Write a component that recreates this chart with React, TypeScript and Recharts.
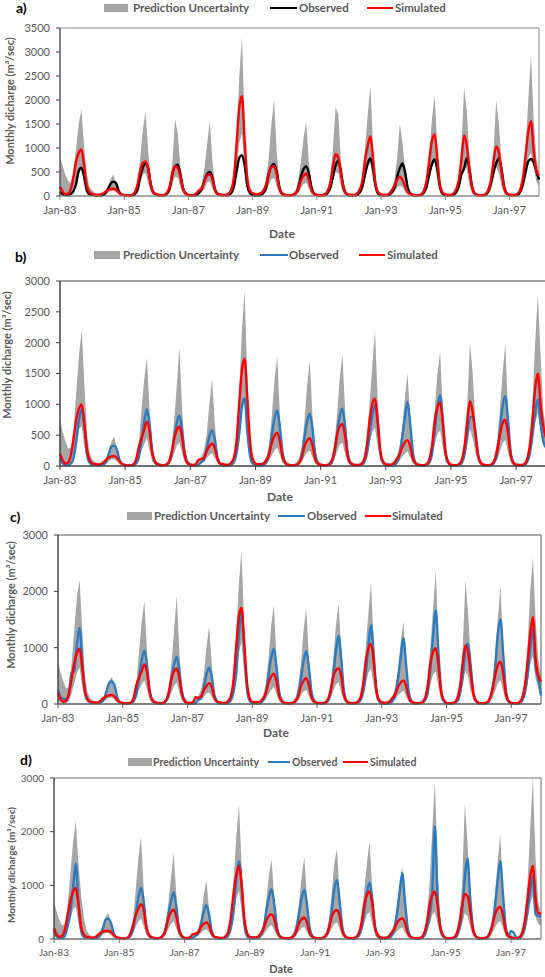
import { Area, ComposedChart, Line, ReferenceArea, XAxis, YAxis } from "recharts";

// month index 0 = Jan-83 ... 179 = Dec-97
const TICK_MONTHS = [0, 24, 48, 72, 96, 120, 144, 168];
const TICK_LABELS = ["Jan-83", "Jan-85", "Jan-87", "Jan-89", "Jan-91", "Jan-93", "Jan-95", "Jan-97"];
const Y_TICKS_A = [0, 500, 1000, 1500, 2000, 2500, 3000, 3500];
const Y_TICKS_B = [0, 500, 1000, 1500, 2000, 2500, 3000];
const Y_TICKS_CD = [0, 1000, 2000, 3000];
const SERIES_NAMES = ["Prediction Uncertainty", "Observed", "Simulated"];
const Y_TITLE = "Monthly dicharge (m\u00b3/sec)";
const X_TITLE = "Date";

// ---- panel a ----
const A_UPPER = [
  800, 620, 450, 320, 260, 500, 1000, 1500, 1800, 1050, 450, 200,
  120, 70, 50, 50, 60, 120, 220, 360, 450, 200, 80, 40,
  40, 30, 30, 40, 100, 300, 800, 1400, 1750, 900, 300, 100,
  60, 40, 30, 40, 100, 280, 700, 1600, 1300, 600, 220, 90,
  50, 40, 40, 60, 150, 250, 600, 1100, 1550, 700, 200, 80,
  40, 30, 30, 60, 150, 400, 1200, 2500, 3300, 1500, 400, 120,
  60, 40, 40, 60, 150, 350, 800, 1500, 2000, 900, 300, 100,
  50, 30, 30, 50, 120, 300, 700, 1200, 1550, 700, 250, 80,
  40, 30, 30, 60, 150, 400, 1000, 1850, 1700, 700, 250, 80,
  50, 40, 40, 60, 150, 400, 1000, 1700, 2300, 1000, 300, 100,
  60, 40, 40, 60, 150, 350, 800, 1500, 1100, 500, 200, 80,
  40, 30, 30, 50, 150, 400, 900, 1600, 2100, 1000, 300, 100,
  50, 40, 40, 60, 150, 400, 1000, 2250, 1800, 800, 250, 90,
  40, 30, 30, 50, 150, 350, 900, 2000, 1500, 700, 250, 80,
  50, 40, 40, 60, 150, 400, 1000, 2000, 2930, 1600, 800, 500,
];
const A_LOWER = [
  60, 30, 15, 15, 40, 150, 350, 550, 600, 300, 60, 20,
  10, 5, 5, 5, 15, 40, 80, 100, 110, 80, 30, 10,
  5, 5, 5, 10, 30, 120, 300, 450, 480, 250, 80, 25,
  10, 5, 5, 10, 30, 80, 250, 400, 380, 180, 50, 15,
  5, 5, 5, 20, 60, 80, 150, 280, 300, 150, 40, 10,
  10, 5, 5, 15, 50, 150, 500, 1100, 1300, 500, 120, 30,
  20, 10, 10, 20, 40, 100, 230, 350, 380, 200, 50, 15,
  5, 5, 5, 5, 20, 60, 150, 250, 280, 150, 40, 10,
  5, 5, 5, 10, 40, 120, 300, 500, 480, 200, 50, 15,
  10, 5, 5, 15, 50, 130, 350, 600, 700, 330, 70, 20,
  10, 5, 5, 15, 50, 100, 180, 220, 180, 80, 25, 10,
  5, 5, 5, 10, 50, 130, 350, 600, 700, 330, 70, 20,
  10, 5, 5, 15, 50, 130, 350, 700, 550, 230, 60, 15,
  5, 5, 5, 10, 50, 130, 350, 600, 480, 200, 50, 15,
  10, 5, 5, 15, 50, 150, 400, 800, 900, 600, 300, 200,
];
const A_OBS = [
  80, 40, 25, 20, 40, 100, 250, 520, 590, 400, 120, 40,
  25, 15, 10, 10, 25, 60, 150, 260, 300, 260, 100, 30,
  15, 10, 10, 15, 40, 130, 400, 600, 680, 560, 220, 70,
  30, 15, 10, 15, 50, 160, 450, 620, 650, 450, 150, 50,
  15, 10, 10, 20, 70, 150, 320, 460, 500, 380, 120, 40,
  20, 15, 15, 25, 60, 200, 520, 800, 850, 650, 220, 60,
  20, 15, 15, 25, 60, 170, 450, 620, 670, 500, 170, 50,
  20, 15, 10, 20, 50, 160, 400, 560, 620, 470, 170, 50,
  20, 15, 15, 25, 60, 170, 400, 640, 740, 500, 170, 50,
  20, 15, 15, 25, 70, 200, 450, 680, 780, 560, 190, 50,
  20, 15, 15, 25, 70, 170, 400, 580, 680, 480, 160, 50,
  20, 15, 15, 25, 70, 200, 450, 670, 760, 560, 190, 50,
  20, 15, 15, 25, 70, 200, 450, 570, 780, 560, 190, 50,
  20, 15, 15, 25, 90, 250, 500, 680, 790, 560, 190, 50,
  20, 15, 15, 25, 90, 250, 500, 720, 770, 700, 520, 340,
];
const A_SIM = [
  190, 90, 40, 50, 140, 380, 720, 900, 970, 650, 220, 80,
  40, 25, 20, 25, 50, 90, 130, 145, 150, 130, 70, 30,
  20, 10, 10, 25, 80, 250, 530, 690, 720, 560, 220, 70,
  40, 20, 15, 25, 70, 200, 480, 620, 580, 400, 150, 50,
  20, 15, 20, 60, 120, 150, 310, 430, 450, 330, 120, 40,
  30, 20, 20, 50, 130, 400, 1100, 1850, 2080, 1150, 370, 110,
  60, 40, 40, 60, 110, 230, 470, 600, 620, 450, 150, 50,
  20, 15, 10, 20, 50, 130, 320, 420, 470, 330, 120, 40,
  20, 15, 15, 35, 100, 260, 620, 870, 800, 460, 150, 50,
  30, 20, 20, 50, 130, 320, 750, 1050, 1240, 780, 220, 70,
  30, 20, 20, 50, 120, 220, 340, 400, 330, 200, 80, 40,
  20, 15, 15, 35, 110, 320, 750, 1150, 1280, 780, 220, 70,
  30, 20, 20, 50, 130, 320, 760, 1260, 1050, 580, 170, 50,
  20, 15, 15, 35, 120, 320, 730, 1030, 900, 520, 170, 50,
  30, 20, 20, 50, 130, 380, 850, 1350, 1560, 950, 520, 430,
];

// ---- panel b ----
const B_UPPER = [
  750, 550, 400, 280, 300, 600, 1200, 1800, 2200, 1300, 500, 200,
  100, 60, 50, 50, 70, 130, 250, 400, 480, 250, 80, 40,
  40, 30, 30, 40, 100, 350, 900, 1400, 1750, 900, 300, 100,
  60, 40, 30, 40, 100, 300, 700, 1300, 1920, 900, 300, 100,
  50, 40, 50, 100, 150, 250, 500, 1000, 1420, 700, 200, 70,
  40, 30, 30, 60, 150, 400, 1200, 2200, 2850, 1400, 400, 120,
  50, 40, 40, 60, 150, 350, 800, 1400, 1770, 800, 250, 90,
  50, 30, 30, 50, 120, 300, 700, 1300, 1700, 800, 250, 80,
  40, 30, 30, 50, 120, 350, 800, 1400, 1800, 900, 300, 90,
  50, 40, 40, 60, 150, 400, 1000, 1600, 2200, 1100, 300, 100,
  50, 40, 50, 80, 150, 300, 600, 1100, 1500, 700, 200, 70,
  40, 30, 30, 50, 150, 400, 900, 1500, 1850, 900, 300, 90,
  40, 30, 30, 50, 150, 400, 1000, 2000, 1500, 700, 220, 80,
  40, 30, 30, 50, 150, 400, 900, 1500, 1980, 900, 280, 90,
  50, 40, 40, 60, 150, 400, 1000, 2000, 2780, 1800, 900, 600,
];
const B_LOWER = [
  50, 20, 10, 10, 50, 180, 400, 600, 650, 300, 80, 20,
  10, 5, 5, 5, 20, 40, 80, 110, 110, 70, 25, 10,
  5, 5, 5, 10, 40, 150, 250, 350, 450, 250, 70, 20,
  10, 5, 5, 5, 30, 80, 200, 330, 380, 200, 50, 15,
  5, 5, 10, 50, 60, 70, 120, 180, 210, 130, 40, 10,
  10, 5, 5, 15, 50, 150, 450, 900, 1100, 550, 150, 30,
  10, 5, 5, 10, 40, 80, 170, 250, 300, 170, 50, 15,
  5, 5, 5, 5, 20, 60, 150, 220, 250, 140, 40, 10,
  5, 5, 5, 10, 30, 100, 230, 350, 380, 200, 50, 15,
  5, 5, 5, 10, 40, 130, 350, 550, 620, 330, 80, 20,
  10, 5, 5, 15, 50, 80, 150, 200, 240, 140, 40, 10,
  5, 5, 5, 10, 40, 130, 350, 520, 580, 300, 70, 20,
  5, 5, 5, 10, 40, 130, 350, 600, 450, 220, 60, 15,
  5, 5, 5, 10, 40, 110, 230, 370, 420, 230, 60, 15,
  5, 5, 5, 10, 40, 130, 350, 700, 850, 550, 350, 250,
];
const B_OBS = [
  120, 50, 20, 15, 40, 130, 400, 750, 920, 620, 180, 50,
  20, 15, 10, 10, 25, 70, 200, 320, 330, 260, 90, 30,
  10, 5, 5, 10, 40, 130, 400, 720, 920, 680, 220, 60,
  20, 10, 10, 20, 50, 160, 450, 700, 820, 560, 190, 50,
  10, 5, 5, 20, 60, 100, 270, 480, 580, 430, 140, 40,
  10, 5, 5, 20, 60, 200, 520, 950, 1100, 550, 170, 40,
  20, 10, 10, 20, 60, 190, 500, 770, 900, 620, 210, 50,
  15, 10, 10, 20, 50, 170, 450, 720, 850, 600, 200, 50,
  15, 10, 10, 20, 50, 190, 500, 800, 930, 630, 200, 50,
  15, 10, 10, 20, 60, 190, 500, 820, 980, 680, 210, 50,
  10, 5, 5, 15, 50, 170, 450, 780, 1040, 680, 210, 50,
  10, 5, 5, 15, 50, 190, 570, 960, 1150, 750, 230, 50,
  10, 5, 5, 15, 50, 190, 500, 790, 800, 560, 180, 50,
  10, 5, 5, 15, 60, 190, 560, 960, 1130, 750, 230, 50,
  10, 5, 5, 15, 60, 190, 500, 860, 1080, 700, 400, 300,
];
const B_SIM = [
  200, 90, 40, 60, 180, 440, 760, 930, 1000, 680, 250, 90,
  40, 30, 25, 30, 60, 100, 140, 155, 160, 130, 70, 30,
  15, 10, 10, 25, 100, 300, 450, 580, 720, 560, 210, 70,
  30, 15, 10, 20, 60, 190, 430, 580, 640, 450, 160, 50,
  20, 15, 30, 100, 110, 130, 240, 320, 360, 290, 110, 40,
  30, 20, 20, 50, 130, 400, 1000, 1550, 1740, 1100, 400, 110,
  40, 30, 30, 45, 100, 190, 370, 490, 540, 390, 140, 50,
  20, 15, 10, 20, 50, 130, 310, 410, 450, 330, 110, 40,
  20, 15, 10, 25, 75, 230, 490, 640, 680, 480, 150, 50,
  20, 15, 15, 35, 100, 320, 730, 1000, 1090, 750, 240, 70,
  30, 20, 20, 45, 110, 180, 300, 380, 420, 320, 110, 40,
  20, 15, 15, 30, 100, 320, 730, 950, 1030, 700, 210, 70,
  20, 15, 15, 30, 100, 320, 730, 1050, 880, 520, 170, 50,
  20, 15, 15, 30, 90, 260, 500, 690, 750, 530, 170, 50,
  20, 15, 15, 30, 100, 320, 730, 1250, 1500, 1000, 650, 450,
];

// ---- panel c ----
const C_UPPER = [
  760, 550, 400, 280, 300, 700, 1300, 1900, 2200, 1300, 500, 200,
  100, 60, 50, 50, 70, 130, 250, 420, 480, 250, 80, 40,
  40, 30, 30, 40, 100, 350, 900, 1450, 1830, 900, 300, 100,
  60, 40, 30, 40, 100, 300, 700, 1300, 1920, 900, 300, 100,
  50, 40, 50, 100, 150, 250, 500, 1000, 1380, 700, 200, 70,
  40, 30, 30, 60, 150, 400, 1200, 2100, 2720, 1400, 400, 120,
  50, 40, 40, 60, 150, 350, 800, 1400, 1750, 800, 250, 90,
  50, 30, 30, 50, 120, 300, 700, 1300, 1700, 800, 250, 80,
  40, 30, 30, 50, 120, 350, 800, 1400, 1780, 900, 300, 90,
  50, 40, 40, 60, 150, 400, 1000, 1600, 2150, 1100, 300, 100,
  50, 40, 50, 80, 150, 300, 600, 1100, 1460, 700, 200, 70,
  40, 30, 30, 50, 150, 400, 1000, 1700, 2370, 1100, 300, 90,
  40, 30, 30, 50, 150, 400, 1000, 2200, 1600, 700, 220, 80,
  40, 30, 30, 50, 150, 400, 900, 1500, 2100, 900, 280, 90,
  40, 30, 30, 50, 150, 400, 1000, 2000, 2600, 1500, 800, 500,
];
const C_LOWER = [
  50, 20, 10, 10, 50, 180, 350, 550, 650, 300, 80, 20,
  10, 5, 5, 5, 20, 40, 80, 110, 110, 70, 25, 10,
  5, 5, 5, 10, 40, 150, 250, 350, 420, 250, 70, 20,
  10, 5, 5, 5, 30, 80, 200, 330, 380, 200, 50, 15,
  5, 5, 10, 60, 60, 70, 120, 180, 210, 130, 40, 10,
  10, 5, 5, 15, 50, 150, 450, 900, 1100, 550, 150, 30,
  10, 5, 5, 10, 40, 80, 170, 250, 300, 170, 50, 15,
  5, 5, 5, 5, 20, 60, 150, 220, 250, 140, 40, 10,
  5, 5, 5, 10, 30, 100, 230, 350, 380, 200, 50, 15,
  5, 5, 5, 10, 40, 130, 350, 550, 620, 330, 80, 20,
  10, 5, 5, 15, 50, 80, 150, 200, 240, 140, 40, 10,
  5, 5, 5, 10, 40, 130, 350, 520, 580, 300, 70, 20,
  5, 5, 5, 10, 40, 130, 350, 600, 480, 220, 60, 15,
  5, 5, 5, 10, 40, 110, 230, 370, 420, 230, 60, 15,
  5, 5, 5, 10, 40, 130, 350, 700, 850, 450, 280, 200,
];
const C_OBS = [
  250, 120, 90, 80, 160, 550, 580, 1050, 1350, 750, 220, 70,
  30, 20, 15, 15, 35, 80, 230, 380, 400, 320, 110, 35,
  15, 10, 10, 20, 50, 160, 450, 760, 950, 680, 220, 60,
  20, 10, 10, 20, 50, 160, 450, 700, 840, 560, 190, 50,
  10, 5, 5, 20, 70, 100, 290, 520, 650, 470, 150, 40,
  10, 5, 5, 20, 60, 200, 520, 1200, 1650, 1000, 300, 60,
  20, 10, 10, 20, 60, 190, 500, 820, 980, 640, 210, 50,
  15, 10, 10, 20, 50, 170, 450, 760, 940, 640, 200, 50,
  15, 10, 10, 20, 50, 190, 500, 950, 1210, 780, 220, 50,
  15, 10, 10, 20, 60, 190, 500, 1000, 1400, 880, 250, 50,
  10, 5, 5, 15, 50, 170, 450, 830, 1170, 700, 210, 50,
  10, 10, 20, 30, 60, 190, 620, 1200, 1660, 900, 250, 50,
  10, 5, 5, 15, 50, 190, 500, 980, 1070, 650, 190, 50,
  10, 5, 5, 15, 80, 250, 620, 1250, 1500, 880, 250, 50,
  10, 5, 5, 15, 60, 190, 500, 980, 1330, 650, 450, 150,
];
const C_SIM = [
  200, 80, 40, 60, 180, 440, 720, 900, 980, 640, 220, 80,
  40, 30, 25, 30, 70, 110, 140, 155, 160, 130, 70, 30,
  20, 10, 10, 25, 100, 330, 460, 580, 700, 560, 210, 70,
  30, 15, 10, 20, 60, 190, 430, 580, 630, 450, 160, 50,
  20, 15, 30, 120, 110, 130, 240, 320, 370, 290, 110, 40,
  30, 20, 20, 50, 130, 400, 1000, 1550, 1710, 1100, 400, 110,
  40, 30, 30, 45, 100, 190, 370, 490, 540, 390, 140, 50,
  20, 15, 10, 20, 50, 130, 310, 410, 460, 330, 110, 40,
  20, 15, 10, 25, 75, 230, 480, 600, 630, 480, 150, 50,
  20, 15, 15, 35, 100, 320, 730, 980, 1070, 750, 240, 70,
  30, 20, 20, 45, 110, 180, 300, 380, 420, 320, 110, 40,
  20, 15, 15, 30, 100, 320, 730, 920, 990, 680, 210, 70,
  20, 15, 15, 30, 100, 320, 730, 1040, 900, 520, 170, 50,
  20, 15, 15, 30, 90, 260, 500, 690, 750, 530, 170, 50,
  20, 15, 15, 30, 100, 320, 730, 1250, 1540, 800, 500, 400,
];

// ---- panel d ----
const D_UPPER = [
  700, 500, 350, 250, 280, 600, 1200, 1800, 2200, 1400, 800, 400,
  150, 80, 50, 50, 70, 130, 250, 420, 480, 250, 80, 40,
  40, 30, 30, 40, 100, 350, 900, 1500, 1900, 900, 300, 100,
  60, 40, 30, 40, 100, 300, 650, 1150, 1600, 800, 280, 90,
  50, 40, 50, 80, 120, 200, 400, 800, 1100, 550, 180, 60,
  40, 30, 30, 60, 150, 400, 1100, 1900, 2500, 1300, 400, 120,
  50, 40, 40, 60, 150, 300, 700, 1200, 1470, 700, 250, 90,
  50, 30, 30, 50, 120, 300, 650, 1150, 1530, 750, 250, 80,
  40, 30, 30, 50, 120, 350, 800, 1400, 1680, 800, 250, 90,
  50, 40, 40, 60, 150, 400, 900, 1400, 1820, 900, 300, 100,
  50, 40, 50, 80, 150, 300, 600, 1000, 1350, 700, 200, 70,
  40, 30, 30, 50, 150, 400, 1000, 2000, 2940, 1300, 350, 100,
  40, 30, 30, 50, 150, 400, 1000, 2530, 1800, 800, 250, 80,
  40, 30, 30, 50, 150, 350, 800, 1400, 1950, 900, 250, 90,
  100, 40, 40, 60, 150, 400, 1000, 2000, 3000, 1500, 700, 450,
];
const D_LOWER = [
  50, 20, 10, 10, 50, 180, 350, 550, 600, 300, 80, 20,
  10, 5, 5, 5, 20, 40, 80, 110, 110, 70, 25, 10,
  5, 5, 5, 10, 40, 120, 220, 320, 380, 230, 70, 20,
  10, 5, 5, 5, 30, 70, 180, 280, 330, 190, 50, 15,
  5, 5, 10, 50, 60, 60, 110, 160, 180, 120, 40, 10,
  10, 5, 5, 15, 50, 150, 400, 750, 900, 500, 130, 30,
  10, 5, 5, 10, 40, 80, 160, 230, 260, 160, 50, 15,
  5, 5, 5, 5, 20, 60, 140, 200, 230, 130, 40, 10,
  5, 5, 5, 10, 30, 80, 190, 280, 310, 190, 50, 15,
  5, 5, 5, 10, 40, 120, 280, 450, 500, 280, 70, 20,
  10, 5, 5, 15, 50, 80, 140, 190, 220, 130, 40, 10,
  5, 5, 5, 10, 40, 120, 280, 450, 500, 280, 70, 20,
  5, 5, 5, 10, 40, 110, 270, 480, 430, 220, 60, 15,
  5, 5, 5, 10, 40, 100, 200, 300, 340, 200, 60, 15,
  10, 5, 5, 10, 40, 130, 350, 650, 800, 400, 280, 250,
];
const D_OBS = [
  150, 50, 20, 20, 60, 240, 500, 950, 1410, 650, 150, 40,
  30, 15, 10, 10, 25, 70, 200, 360, 380, 290, 100, 30,
  15, 10, 10, 20, 50, 160, 450, 760, 960, 680, 220, 60,
  20, 10, 10, 20, 50, 160, 450, 700, 870, 580, 190, 50,
  10, 5, 5, 20, 60, 100, 260, 500, 630, 450, 140, 40,
  10, 5, 5, 20, 60, 200, 520, 1100, 1450, 950, 280, 50,
  20, 10, 10, 20, 60, 190, 500, 780, 930, 630, 210, 50,
  15, 10, 10, 20, 50, 170, 450, 760, 920, 630, 200, 50,
  15, 10, 10, 20, 50, 190, 500, 920, 1100, 700, 210, 50,
  15, 10, 10, 20, 60, 190, 500, 870, 1050, 740, 230, 50,
  10, 5, 5, 15, 50, 170, 450, 860, 1230, 700, 210, 50,
  10, 5, 5, 15, 50, 190, 400, 850, 2100, 750, 200, 50,
  10, 5, 5, 15, 50, 190, 500, 1150, 1490, 760, 210, 50,
  10, 5, 5, 15, 70, 230, 560, 1050, 1450, 850, 240, 70,
  150, 110, 20, 15, 60, 190, 500, 880, 1180, 460, 430, 420,
];
const D_SIM = [
  200, 80, 40, 60, 180, 440, 720, 880, 950, 640, 220, 80,
  40, 30, 25, 30, 70, 110, 140, 150, 150, 130, 70, 30,
  20, 10, 10, 25, 90, 250, 440, 560, 650, 530, 200, 70,
  30, 15, 10, 20, 60, 170, 380, 500, 550, 410, 150, 50,
  20, 15, 30, 90, 100, 120, 220, 280, 310, 250, 100, 40,
  30, 20, 20, 50, 130, 400, 850, 1200, 1360, 1000, 360, 110,
  40, 30, 30, 45, 100, 190, 340, 430, 460, 360, 140, 50,
  20, 15, 10, 20, 50, 130, 290, 370, 400, 300, 100, 40,
  20, 15, 10, 25, 75, 190, 400, 510, 540, 420, 140, 50,
  20, 15, 15, 35, 100, 290, 620, 820, 880, 640, 220, 70,
  30, 20, 20, 45, 110, 180, 290, 360, 385, 300, 110, 40,
  20, 15, 15, 30, 100, 290, 620, 820, 880, 640, 220, 70,
  20, 15, 15, 30, 100, 290, 620, 840, 800, 520, 170, 50,
  20, 15, 15, 30, 90, 230, 440, 560, 600, 450, 160, 50,
  30, 15, 15, 30, 100, 320, 730, 1150, 1360, 750, 480, 470,
];

const FONT = "Lato, 'DejaVu Sans', sans-serif";
const TEXT = "#595959";
const BAND = "#a6a6a6";
const RED = "#ff0000";
const BLUE = "#2a7bbf";
const BLACK = "#000000";

function buildRows(upper: number[], lower: number[], obs: number[], sim: number[]) {
  return obs.map((v, i) => ({ month: i, band: [lower[i], upper[i]], obs: v, sim: sim[i] }));
}

function monthLabel(m: number) {
  const k = TICK_MONTHS.indexOf(m);
  return k >= 0 ? TICK_LABELS[k] : "";
}

const PANELS = [
  {
    tag: "a)", rows: buildRows(A_UPPER, A_LOWER, A_OBS, A_SIM), obsColor: BLACK,
    yMax: 3500, yTicks: Y_TICKS_A, top: 0, height: 245, chartWidth: 545,
    yAxisW: 60, plotTop: 28, plotBottom: 196, plotRight: 539, xAxisH: 42, fs: 11, lfs: 11.5,
    box: "#8c8c8c", axis: "#404040",
    tagPos: [16, 8], legendY: 8, legend: [[104, 128, 133], [270, 297, 299], [367, 393, 395]],
    yTitle: [10, 101], xTitle: [282, 234],
  },
  {
    tag: "b)", rows: buildRows(B_UPPER, B_LOWER, B_OBS, B_SIM), obsColor: BLUE,
    yMax: 3000, yTicks: Y_TICKS_B, top: 240, height: 268, chartWidth: 550,
    yAxisW: 60, plotTop: 281, plotBottom: 466, plotRight: 546, xAxisH: 42, fs: 11, lfs: 11.5,
    box: "#404040", axis: "#404040",
    tagPos: [15, 257], legendY: 255, legend: [[94, 120, 123], [260, 288, 289], [359, 385, 387]],
    yTitle: [7, 355], xTitle: [280, 497],
  },
  {
    tag: "c)", rows: buildRows(C_UPPER, C_LOWER, C_OBS, C_SIM), obsColor: BLUE,
    yMax: 3000, yTicks: Y_TICKS_CD, top: 505, height: 240, chartWidth: 545,
    yAxisW: 58, plotTop: 535, plotBottom: 704, plotRight: 541, xAxisH: 38, fs: 11, lfs: 11.5,
    box: "#595959", axis: "#404040",
    tagPos: [10, 517], legendY: 516, legend: [[127, 152, 154], [278, 305, 307], [365, 391, 392]],
    yTitle: [11, 605], xTitle: [276, 733],
  },
  {
    tag: "d)", rows: buildRows(D_UPPER, D_LOWER, D_OBS, D_SIM), obsColor: BLUE,
    yMax: 3000, yTicks: Y_TICKS_CD, top: 745, height: 232, chartWidth: 545,
    yAxisW: 54, plotTop: 778, plotBottom: 939, plotRight: 541, xAxisH: 36, fs: 10, lfs: 10.5,
    box: "#6f6f6f", axis: "#404040",
    tagPos: [20, 760], legendY: 762, legend: [[128, 152, 153], [268, 290, 292], [343, 368, 370]],
    yTitle: [11, 865], xTitle: [281, 969],
  },
];

type PanelCfg = (typeof PANELS)[number];

function Panel({ p }: { p: PanelCfg }) {
  const relTop = p.plotTop - p.top;
  const relBottom = p.plotBottom - p.top;
  const margin = {
    top: relTop,
    right: p.chartWidth - p.plotRight,
    left: 0,
    bottom: p.height - relBottom - p.xAxisH,
  };
  const tick = { fill: TEXT, fontSize: p.fs, fontFamily: FONT };
  const colors = [BAND, p.obsColor, RED];

  return (
    <>
      <div style={{ position: "absolute", left: 0, top: p.top, width: p.chartWidth, height: p.height }}>
        <ComposedChart width={p.chartWidth} height={p.height} data={p.rows} margin={margin}>
          <XAxis
            dataKey="month"
            type="number"
            domain={[0, 179]}
            ticks={TICK_MONTHS}
            tickFormatter={monthLabel}
            interval={0}
            height={p.xAxisH}
            tick={tick}
            tickSize={4}
            tickMargin={6}
            stroke={p.box}
          />
          <YAxis
            type="number"
            domain={[0, p.yMax]}
            ticks={p.yTicks}
            interval={0}
            width={p.yAxisW}
            tick={tick}
            tickSize={4}
            tickMargin={6}
            stroke={p.axis}
          />
          <Area
            dataKey="band"
            type="linear"
            stroke="none"
            fill={BAND}
            fillOpacity={1}
            isAnimationActive={false}
          />
          <Line dataKey="obs" type="monotone" stroke={p.obsColor} strokeWidth={2.4} dot={false} isAnimationActive={false} />
          <Line dataKey="sim" type="monotone" stroke={RED} strokeWidth={2.4} dot={false} isAnimationActive={false} />
          <ReferenceArea x1={0} x2={179} y1={0} y2={p.yMax} fill="none" stroke={p.box} strokeWidth={1} ifOverflow="visible" />
        </ComposedChart>
      </div>

      <div style={{ position: "absolute", left: p.tagPos[0], top: p.tagPos[1] - 9, fontSize: 14, fontWeight: 700, color: "#000", lineHeight: "18px" }}>
        {p.tag}
      </div>

      {p.legend.map(([x0, x1, tx], k) => (
        <div key={k}>
          {k === 0 ? (
            <div style={{ position: "absolute", left: x0, top: p.legendY - 4, width: x1 - x0, height: 8, background: BAND }} />
          ) : (
            <div style={{ position: "absolute", left: x0, top: p.legendY - 1, width: x1 - x0, height: 2, background: colors[k] }} />
          )}
          <div
            style={{
              position: "absolute", left: tx, top: p.legendY - 8, fontSize: p.lfs, lineHeight: "16px",
              color: TEXT, fontWeight: 700, whiteSpace: "nowrap",
            }}
          >
            {SERIES_NAMES[k]}
          </div>
        </div>
      ))}

      <div
        style={{
          position: "absolute", left: p.yTitle[0], top: p.yTitle[1], transform: "translate(-50%, -50%) rotate(-90deg)",
          fontSize: p.fs, fontWeight: 700, color: TEXT, whiteSpace: "nowrap", lineHeight: "14px",
        }}
      >
        {Y_TITLE}
      </div>
      <div
        style={{
          position: "absolute", left: p.xTitle[0], top: p.xTitle[1], transform: "translate(-50%, -50%)",
          fontSize: p.fs + 1, fontWeight: 700, color: TEXT, whiteSpace: "nowrap", lineHeight: "16px",
        }}
      >
        {X_TITLE}
      </div>
    </>
  );
}

export default function App() {
  return (
    <div
      style={{
        position: "absolute", left: 0, top: 0, width: 545, height: 977, overflow: "hidden",
        background: "#fff", fontFamily: FONT,
      }}
    >
      {PANELS.map((p) => (
        <Panel key={p.tag} p={p} />
      ))}
    </div>
  );
}
